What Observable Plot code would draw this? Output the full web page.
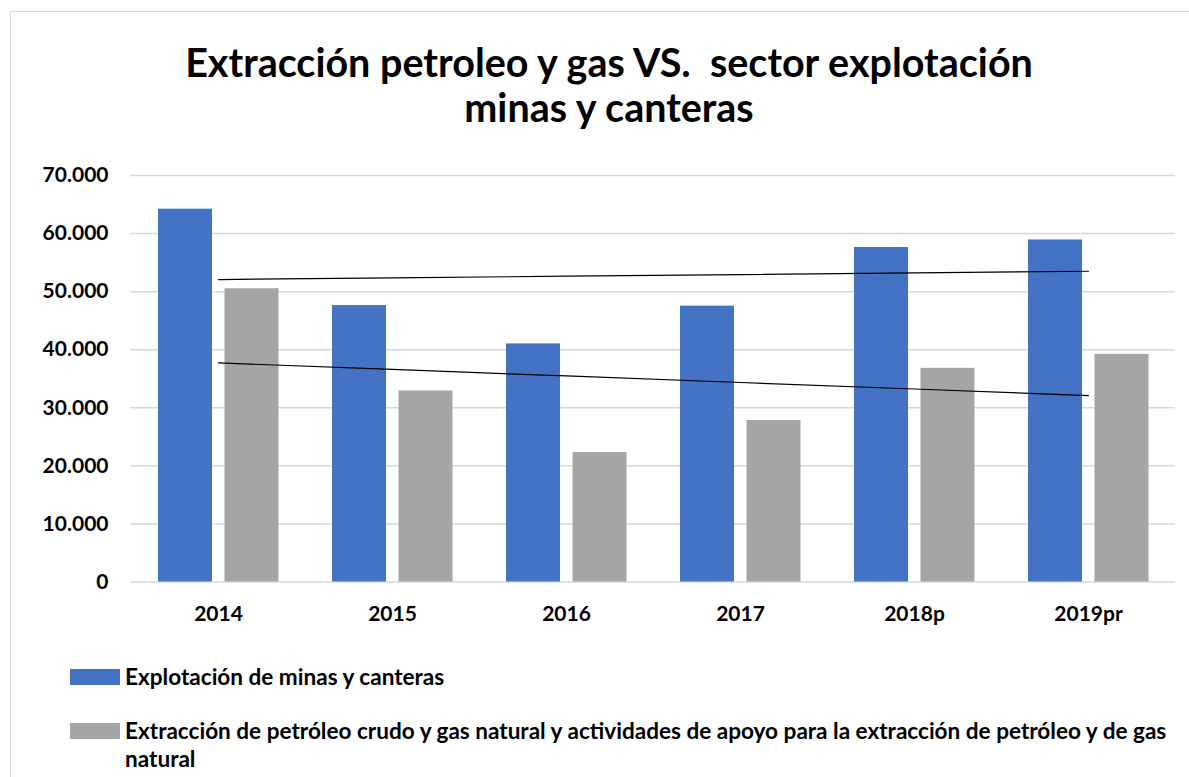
<!DOCTYPE html>
<html><head><meta charset="utf-8">
<script src="https://cdn.jsdelivr.net/npm/d3@7"></script>
<script src="https://cdn.jsdelivr.net/npm/@observablehq/plot@0.6"></script>
<style>
body{margin:0;background:#fff;font-family:Lato,"Open Sans",sans-serif;width:1189px;height:777px;overflow:hidden;position:relative;color:#000}
#frame{position:absolute;left:10px;top:11px;width:1220px;height:820px;border:1px solid #d9d9d9;box-sizing:border-box}
.tl{position:absolute;left:0;width:1218px;text-align:center;font-weight:bold;white-space:nowrap}
.tl span{display:inline-block}
#chart{position:absolute;left:0;top:150px}
.lg{position:absolute;left:70px;font-weight:bold;white-space:nowrap}
.sw{position:absolute;left:0;width:50px;height:16px}
.lt{position:absolute;left:55px;line-height:28px}
</style></head>
<body>
<div id="frame"></div>
<div class="tl" style="top:40px;height:44px;line-height:44px"><span id="t1">Extracción petroleo y gas VS.&nbsp; sector explotación</span></div>
<div class="tl" style="top:85px;height:44px;line-height:44px"><span id="t2">minas y canteras</span></div>
<div id="chart"></div>
<div class="lg" style="top:663px"><div class="sw" style="top:6px;background:#4472C4"></div><div class="lt" id="l1">Explotación de minas y canteras</div></div>
<div class="lg" style="top:717px"><div class="sw" style="top:6px;background:#A5A5A5"></div><div class="lt" id="l2">Extracción de petróleo crudo y gas natural y actividades de apoyo para la extracción de petróleo y de gas<br>natural</div></div>
<script>
const years = ["2014","2015","2016","2017","2018p","2019pr"];
const minas = [64200, 47600, 41000, 47500, 57600, 58900];
const petroleo = [50500, 32900, 22300, 27800, 36800, 39200];
const yTicks = [0,10000,20000,30000,40000,50000,60000,70000];

function trend(vals){
  const xs = d3.range(vals.length), mx = d3.mean(xs), my = d3.mean(vals);
  const b = d3.sum(xs,(x,i)=>(x-mx)*(vals[i]-my))/d3.sum(xs,x=>(x-mx)**2);
  return xs.map(x=>({year:years[x], t:my+b*(x-mx)}));
}
const dMinas = years.map((y,i)=>({year:y, v:minas[i]}));
const dPet = years.map((y,i)=>({year:y, v:petroleo[i]}));
const fmt = d => d3.format(",")(d).replace(/,/g,".");

const chart = Plot.plot({
  width:1189, height:480, marginLeft:130, marginRight:14, marginTop:25, marginBottom:48.5,
  x:{domain:years, padding:0, label:null, tickSize:0, tickPadding:24},
  y:{domain:[0,70000], ticks:yTicks, tickFormat:fmt, label:null, tickSize:0, tickPadding:22},
  style:{fontFamily:"Lato", fontSize:"21px", fontWeight:"bold", color:"#000", background:"transparent"},
  marks:[
    Plot.ruleY(yTicks, {stroke:"#d9d9d9", strokeOpacity:1, strokeWidth:1.5}),
    Plot.barY(dMinas, {x:"year", y:"v", fill:"#4472C4", insetLeft:27, insetRight:93}),
    Plot.barY(dPet, {x:"year", y:"v", fill:"#A5A5A5", insetLeft:93.5, insetRight:26.5}),
    Plot.line(trend(minas), {x:"year", y:"t", stroke:"#000", strokeWidth:1.2}),
    Plot.line(trend(petroleo), {x:"year", y:"t", stroke:"#000", strokeWidth:1.2})
  ]
});
document.getElementById("chart").append(chart);

function fitWidth(id, target, base){
  const el = document.getElementById(id);
  el.style.fontSize = base + "px";
  const w = el.getBoundingClientRect().width;
  el.style.fontSize = (base * target / w) + "px";
}
fitWidth("t1", 848, 36);
document.getElementById("t2").style.fontSize = document.getElementById("t1").style.fontSize;
const l2 = document.getElementById("l2");
l2.style.fontSize = "17px";
const w2 = l2.getBoundingClientRect().width;
const fs = 17 * 1042 / w2;
l2.style.fontSize = fs + "px";
document.getElementById("l1").style.fontSize = fs + "px";
</script>
</body></html>
